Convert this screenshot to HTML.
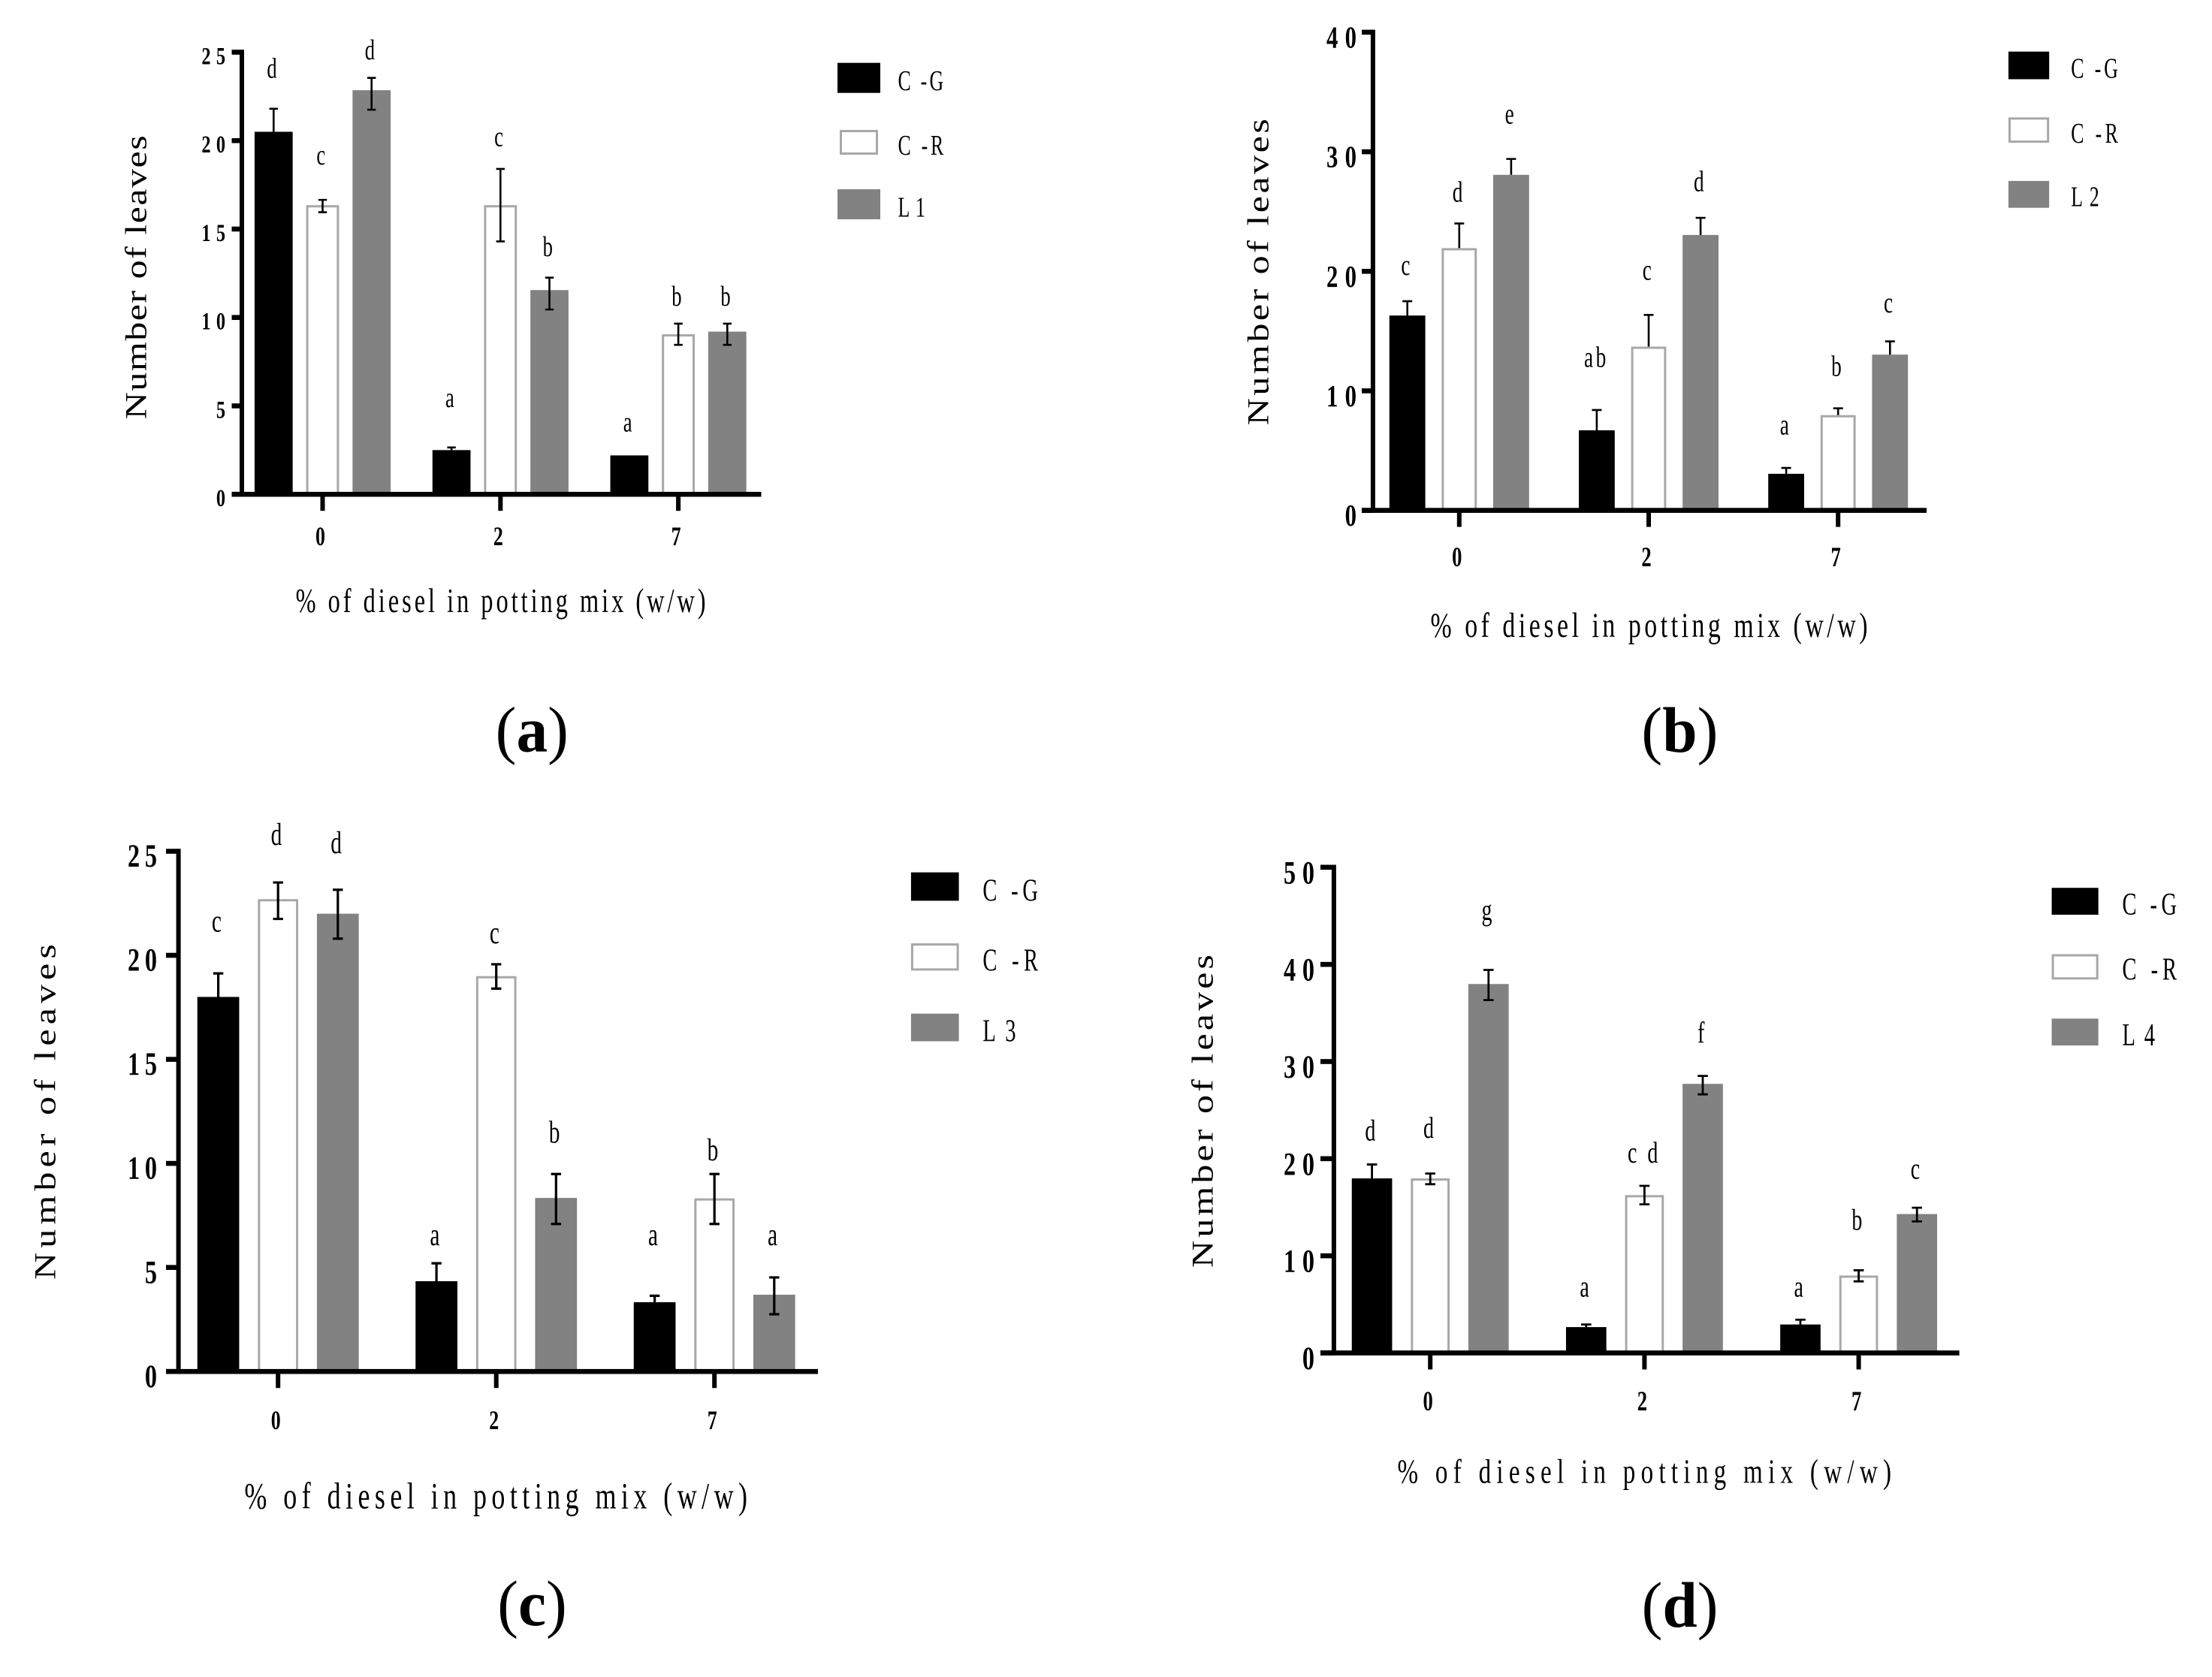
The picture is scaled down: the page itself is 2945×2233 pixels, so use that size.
<!DOCTYPE html>
<html lang="en">
<head>
<meta charset="utf-8">
<title>Number of leaves by diesel concentration</title>
<style>
html,body{margin:0;padding:0;background:#fff;width:2945px;height:2233px;overflow:hidden}
svg{display:block}
text{font-family:"Liberation Serif",serif;fill:#000}
</style>
</head>
<body>
<svg id="figure" xmlns="http://www.w3.org/2000/svg" width="2945" height="2233" viewBox="0 0 2945 2233"></svg>
<script>
// ---- shared labels ----
const categories = ['0', '2', '7'];
const xAxisTitle = '% of diesel in potting mix (w/w)';
const yAxisTitle = 'Number of leaves';

// ---- panel (a) ----
const aTicks = [0, 5, 10, 15, 20, 25];
const aSeries = ['C -G', 'C -R', 'L 1'];
const aValues = [[20.5, 2.5, 2.2], [16.35, 16.35, 9.05], [22.85, 11.55, 9.2]];
const aErrUp = [[1.3, 0.15, 0], [0.3, 2.05, 0.6], [0.7, 0.7, 0.45]];
const aErrDown = [[0, 0, 0], [0.4, 2.05, 0.6], [1.1, 1.1, 0.75]];
const aLetters = [['d', 'a', 'a'], ['c', 'c', 'b'], ['d', 'b', 'b']];
const aLetterGaps = [[2.2, 2.74, 1.8], [2.46, 1.75, 1.47], [1.5, 1.67, 1.47]];

// ---- panel (b) ----
const bTicks = [0, 10, 20, 30, 40];
const bSeries = ['C -G', 'C -R', 'L 2'];
const bValues = [[16.3, 6.7, 3.06], [21.94, 13.7, 7.97], [28.07, 23.04, 13.03]];
const bErrUp = [[1.2, 1.7, 0.49], [2.06, 2.65, 0.57], [1.33, 1.43, 1.11]];
const bErrDown = [[0, 0, 0], [0, 0, 0], [0, 0, 0]];
const bLetters = [['c', 'ab', 'a'], ['d', 'c', 'b'], ['e', 'd', 'c']];
const bLetterGaps = [[2.89, 4.3, 3.48], [2.5, 3.63, 3.39], [3.65, 2.93, 3.1]];

// ---- panel (c) ----
const cTicks = [0, 5, 10, 15, 20, 25];
const cSeries = ['C -G', 'C -R', 'L 3'];
const cValues = [[18.0, 4.34, 3.33], [22.7, 19.0, 8.32], [22.0, 8.34, 3.69]];
const cErrUp = [[1.13, 0.86, 0.31], [0.8, 0.57, 1.17], [1.15, 1.15, 0.83]];
const cErrDown = [[0, 0, 0], [0.95, 0.6, 1.23], [1.2, 1.25, 0.94]];
const cLetters = [['c', 'a', 'a'], ['d', 'c', 'b'], ['d', 'b', 'a']];
const cLetterGaps = [[2.44, 1.3, 2.86], [2.23, 1.43, 1.09], [2.19, 1.94, 1.98]];

// ---- panel (d) ----
const dTicks = [0, 10, 20, 30, 40, 50];
const dSeries = ['C -G', 'C -R', 'L 4'];
const dValues = [[17.97, 2.66, 2.93], [17.97, 16.25, 7.97], [37.98, 27.7, 14.3]];
const dErrUp = [[1.43, 0.27, 0.49], [0.5, 0.95, 0.54], [1.45, 0.82, 0.65]];
const dErrDown = [[0, 0, 0], [0.6, 0.95, 0.6], [1.65, 1.08, 0.76]];
const dLetters = [['d', 'a', 'a'], ['d', 'c d', 'b'], ['g', 'f', 'c']];
const dLetterGaps = [[3.35, 3.75, 3.26], [4.56, 3.25, 5.05], [6.0, 4.29, 3.85]];

const NS = 'http://www.w3.org/2000/svg';
const figure = document.getElementById('figure');
const seriesKeys = ['c-g', 'c-r', 'line'];

function make(parent, tag, attrs) {
  const node = document.createElementNS(NS, tag);
  for (const k in attrs) node.setAttribute(k, attrs[k]);
  parent.appendChild(node);
  return node;
}

// Text is squeezed horizontally and fitted to a target length, as in the source figure.
function label(parent, str, x, y, o) {
  const t = make(parent, 'text', {
    transform: 'translate(' + x + ',' + y + ')' + (o.rotate ? ' rotate(-90)' : '') + ' scale(' + o.sx + ',1)',
    'font-size': o.size,
    'font-weight': o.bold ? 'bold' : 'normal',
    'text-anchor': o.anchor || 'start'
  });
  if (o.len) {
    t.setAttribute('textLength', o.len / o.sx);
    t.setAttribute('lengthAdjust', 'spacing');
  }
  if (o.spacing) t.setAttribute('letter-spacing', o.spacing);
  t.textContent = str;
  return t;
}

function drawPanel(id, d, g) {
  const panel = make(figure, 'g', {});
  
  

  const yMax = d.ticks[d.ticks.length - 1];
  const yScale = v => g.zeroY - (v / yMax) * (g.zeroY - g.topY);
  const groupX = i => g.groupStart + i * g.groupStep;
  const barX = (i, s) => groupX(i) + (s - 1) * g.offset;

  // bars
  d.values.forEach((vals, s) => {
    vals.forEach((v, i) => {
      const w = s === 1 ? g.whiteW - 3 : g.barW;
      const top = yScale(v);
      const bar = make(panel, 'rect', {
        x: barX(i, s) - w / 2,
        y: s === 1 ? top + 1.5 : top,
        width: w,
        height: Math.max(0, g.zeroY - top),
        fill: s === 0 ? '#000' : s === 1 ? '#fff' : '#828282',
        stroke: s === 1 ? '#a8a8a8' : 'none',
        'stroke-width': s === 1 ? 3 : 0
      });
      
      
    });
  });

  // axes
  const yAxis = make(panel, 'rect', { x: g.axisX - 3, y: g.topY - 3.3, width: 6, height: g.zeroY - g.topY + 6.3, fill: '#000' });
  
  
  const xAxis = make(panel, 'rect', { x: g.tickLeft, y: g.zeroY - 3.3, width: g.rightX - g.tickLeft, height: 6.6, fill: '#000' });
  
  

  // y ticks and labels
  d.ticks.forEach(v => {
    const y = yScale(v);
    const tick = make(panel, 'rect', { x: g.tickLeft, y: y - 3.3, width: g.axisX - g.tickLeft, height: 6.6, fill: '#000' });
    
    
    const digits = String(v);
    const tl = label(panel, digits, g.yLabelRight, y + g.yLabelDrop, {
      size: g.tickSize, sx: 0.75, bold: true, anchor: 'end',
      len: digits.length > 1 ? g.yLabelW : 0
    });
    
    
  });

  // x ticks and labels
  categories.forEach((c, i) => {
    const tick = make(panel, 'rect', { x: groupX(i) - 3, y: g.zeroY, width: 6, height: 22, fill: '#000' });
    
    
    const tl = label(panel, c, groupX(i) - 3, g.xLabelY, { size: g.xTickSize, sx: 0.72, bold: true, anchor: 'middle' });
    
    
  });

  // error bars and significance letters
  d.values.forEach((vals, s) => {
    vals.forEach((v, i) => {
      const cx = barX(i, s);
      const up = yScale(v + d.errUp[s][i]);
      const down = yScale(v - d.errDown[s][i]);
      if (d.errUp[s][i] > 0 || d.errDown[s][i] > 0) {
        const p = 'M' + (cx - g.cap) + ' ' + up + 'H' + (cx + g.cap) + 'M' + cx + ' ' + up + 'V' + down +
          (d.errDown[s][i] > 0 ? 'M' + (cx - g.cap) + ' ' + down + 'H' + (cx + g.cap) : '');
        const eb = make(panel, 'path', { d: p, fill: 'none', stroke: '#000', 'stroke-width': g.errW });
        
        
      }
      const ly = yScale(v + d.errUp[s][i] + d.gaps[s][i]) + g.letterSize * 0.28;
      const lt = label(panel, d.letters[s][i], cx - 0.5, ly, { size: g.letterSize, sx: 0.7, anchor: 'middle', spacing: 5 });
      
      
    });
  });

  // axis titles
  const xt = label(panel, xAxisTitle, g.xTitleX, g.xTitleY, { size: g.xTitleSize, sx: 0.72, len: g.xTitleLen });
  
  
  const yt = label(panel, yAxisTitle, g.yTitleX, g.yTitleY, { size: 40, sx: 1.25, len: g.yTitleLen, rotate: true });
  
  

  // legend
  d.series.forEach((name, s) => {
    const entry = make(panel, 'g', {});
    
    
    const r = g.legend[s];
    const inset = s === 1 ? 1.5 : 0;
    const swatch = make(entry, 'rect', {
      x: r[0] + inset, y: r[1] + inset,
      width: r[2] - 2 * inset, height: r[3] - 2 * inset,
      fill: s === 0 ? '#000' : s === 1 ? '#fff' : '#828282',
      stroke: s === 1 ? '#a8a8a8' : 'none',
      'stroke-width': s === 1 ? 3 : 0
    });
    
    
    const txt = label(entry, name, g.legendTextX, r[1] + r[3] - (s === 1 ? 0 : g.legendLift), {
      size: g.legendSize, sx: 0.68, len: s === 2 ? g.legendLen * 0.6 : g.legendLen
    });
    
    
  });

  // panel letter
  const cap = make(panel, 'text', {
    transform: 'translate(' + g.capX + ',' + g.capY + ') scale(0.97,1)',
    'font-size': 86, 'text-anchor': 'middle'
  });
  
  
  cap.appendChild(document.createTextNode('('));
  const capLetter = make(cap, 'tspan', { 'font-weight': 'bold' });
  capLetter.textContent = id;
  cap.appendChild(document.createTextNode(')'));
}

drawPanel('a',
  { ticks: aTicks, series: aSeries, values: aValues, errUp: aErrUp, errDown: aErrDown, letters: aLetters, gaps: aLetterGaps },
  { axisX: 322, zeroY: 658.2, topY: 69.5, tickLeft: 308.5, rightX: 1013.5, groupStart: 429.5, groupStep: 236.8, offset: 65.2,
    barW: 50.7, whiteW: 43.8, cap: 5.7, errW: 2.6, letterSize: 38, tickSize: 32.5, xTickSize: 36, yLabelRight: 300, yLabelW: 31.7, yLabelDrop: 16, xLabelY: 726,
    xTitleX: 393.6, xTitleY: 815, xTitleLen: 546, xTitleSize: 45, yTitleX: 194.7, yTitleY: 558.3, yTitleLen: 378,
    legend: [[1115, 83.7, 57, 40], [1118, 173, 51, 33], [1115, 252, 57, 40]], legendTextX: 1195.5, legendLen: 60.7, legendSize: 38, legendLift: 3.5,
    capX: 708.3, capY: 1000.7 });

drawPanel('b',
  { ticks: bTicks, series: bSeries, values: bValues, errUp: bErrUp, errDown: bErrDown, letters: bLetters, gaps: bLetterGaps },
  { axisX: 1827.9, zeroY: 679.6, topY: 42.9, tickLeft: 1813, rightX: 2565, groupStart: 1942.8, groupStep: 252.2, offset: 69.1,
    barW: 47.8, whiteW: 46.8, cap: 6.5, errW: 2.6, letterSize: 39, tickSize: 41, xTickSize: 37, yLabelRight: 1806, yLabelW: 40, yLabelDrop: 20.5, xLabelY: 754.2,
    xTitleX: 1904.5, xTitleY: 847.8, xTitleLen: 582, xTitleSize: 47, yTitleX: 1688.6, yTitleY: 566.2, yTitleLen: 408,
    legend: [[2674, 68.7, 54.2, 36.8], [2674, 156.3, 54.2, 33.8], [2674, 240.9, 54.2, 35.8]], legendTextX: 2757.2, legendLen: 62.7, legendSize: 38, legendLift: 2,
    capX: 2236.4, capY: 1001 });

drawPanel('c',
  { ticks: cTicks, series: cSeries, values: cValues, errUp: cErrUp, errDown: cErrDown, letters: cLetters, gaps: cLetterGaps },
  { axisX: 237.6, zeroY: 1826.2, topY: 1133.5, tickLeft: 221, rightX: 1089, groupStart: 370.2, groupStep: 290.5, offset: 79.6,
    barW: 55.7, whiteW: 53.7, cap: 6.7, errW: 3.2, letterSize: 42, tickSize: 43, xTickSize: 36, yLabelRight: 209, yLabelW: 39, yLabelDrop: 20.6, xLabelY: 1902.8,
    xTitleX: 325.4, xTitleY: 2008.3, xTitleLen: 669.6, xTitleSize: 50, yTitleX: 73.7, yTitleY: 1703.9, yTitleLen: 446.7,
    legend: [[1212.9, 1161.6, 63.7, 37.8], [1212.9, 1256.1, 63.7, 36.3], [1212.9, 1349.7, 63.7, 36.8]], legendTextX: 1308.4, legendLen: 73.6, legendSize: 42, legendLift: 0,
    capX: 708.5, capY: 2164 });

drawPanel('d',
  { ticks: dTicks, series: dSeries, values: dValues, errUp: dErrUp, errDown: dErrDown, letters: dLetters, gaps: dLetterGaps },
  { axisX: 1775.9, zeroY: 1801.5, topY: 1154.8, tickLeft: 1758, rightX: 2608.6, groupStart: 1904.2, groupStep: 285.2, offset: 77.6,
    barW: 53.7, whiteW: 51.7, cap: 6.8, errW: 2.8, letterSize: 40, tickSize: 43, xTickSize: 37, yLabelRight: 1750, yLabelW: 41, yLabelDrop: 21.5, xLabelY: 1878,
    xTitleX: 1860.5, xTitleY: 1974.6, xTitleLen: 657.6, xTitleSize: 46, yTitleX: 1614.7, yTitleY: 1688, yTitleLen: 416.9,
    legend: [[2731.6, 1182.2, 62.1, 35.8], [2731.6, 1270.5, 62.1, 33.8], [2731.6, 1356.3, 62.1, 35.8]], legendTextX: 2825.5, legendLen: 72.6, legendSize: 42, legendLift: 0,
    capX: 2236.6, capY: 2166 });
</script>
</body>
</html>
